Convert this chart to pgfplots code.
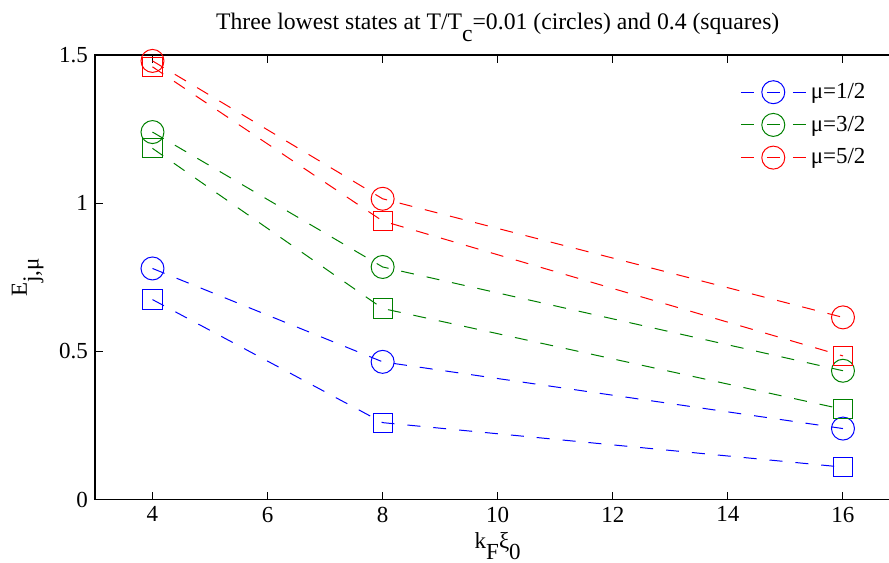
\documentclass[border=0pt]{standalone}
\usepackage{fontspec}
\setmainfont{Liberation Serif}
\usepackage{pgfplots}
\pgfplotsset{compat=1.18}
\definecolor{mgreen}{rgb}{0,0.5,0}
\begin{document}
\begin{tikzpicture}
\begin{axis}[
  scale only axis, width=403pt, height=222.5pt,
  xmin=3, xmax=17, ymin=0, ymax=1.5,
  xtick={4,6,...,16}, ytick={0,0.5,1,1.5},
  xticklabels={4,6,8,10,12,14,16},
  yticklabels={0,0.5,1,1.5},
  tick align=inside, major tick length=4pt,
  font=\fontsize{11.5}{13}\selectfont,
  tick label style={font=\fontsize{11.5}{13}\selectfont},
  title={Three lowest states at T/T\raisebox{-1.1ex}{c}=0.01 (circles) and 0.4 (squares)},
  title style={at={(rel axis cs:0.5,1)}, anchor=base, yshift=6.5pt,
    font=\fontsize{11.85}{13}\selectfont},
  xlabel={k\raisebox{-1.0ex}{F}ξ\raisebox{-1.0ex}{0}},
  xlabel style={at={(rel axis cs:0.5,0)}, anchor=base, yshift=-24.5pt},
  ylabel={E\raisebox{-1.1ex}{j,μ}},
  ylabel style={at={(rel axis cs:0,0.5)}, anchor=base, yshift=34pt},
  axis line style={line width=0.6pt},
  every tick/.style={black, line width=0.5pt},
  legend style={at={(axis cs:14.21,1.42)}, anchor=north west, draw=none, fill=none,
    font=\fontsize{11.5}{13}\selectfont, row sep=3.25pt, inner sep=0pt,
    nodes={inner sep=2pt}},
  legend cell align=left,
  legend image code/.code={
    \draw[#1] (0cm,0cm) -- (1.15cm,0cm);
    \draw[#1] plot coordinates {(0.57cm,0cm)};},
  every axis plot/.append style={line width=0.5pt, dash pattern=on 6.5pt off 6.5pt},
  circ/.style={mark=o, mark size=5.75pt, mark options={solid}},
  sq/.style={mark=square, mark size=4.8pt, mark options={solid}},
]
% T/Tc = 0.01 (circles)
\addplot[blue, circ] coordinates {(4,0.78) (8,0.465) (16,0.24)};
\addlegendentry{μ=1/2}
\addplot[mgreen, circ] coordinates {(4,1.24) (8,0.785) (16,0.435)};
\addlegendentry{μ=3/2}
\addplot[red, circ] coordinates {(4,1.48) (8,1.015) (16,0.615)};
\addlegendentry{μ=5/2}
% T/Tc = 0.4 (squares)
\addplot[blue, sq, forget plot] coordinates {(4,0.675) (8,0.26) (16,0.11)};
\addplot[mgreen, sq, forget plot] coordinates {(4,1.185) (8,0.645) (16,0.305)};
\addplot[red, sq, forget plot] coordinates {(4,1.46) (8,0.94) (16,0.485)};
\coordinate (BL) at (rel axis cs:0,0);
\coordinate (TR) at (axis cs:16.8,1.5);
\end{axis}
% page frame: the axis box runs on past the right edge
\pgfresetboundingbox
\path[use as bounding box] ([shift={(-47.5pt,-31.5pt)}]BL) rectangle ([shift={(0pt,27.5pt)}]TR);
\end{tikzpicture}
\end{document}
